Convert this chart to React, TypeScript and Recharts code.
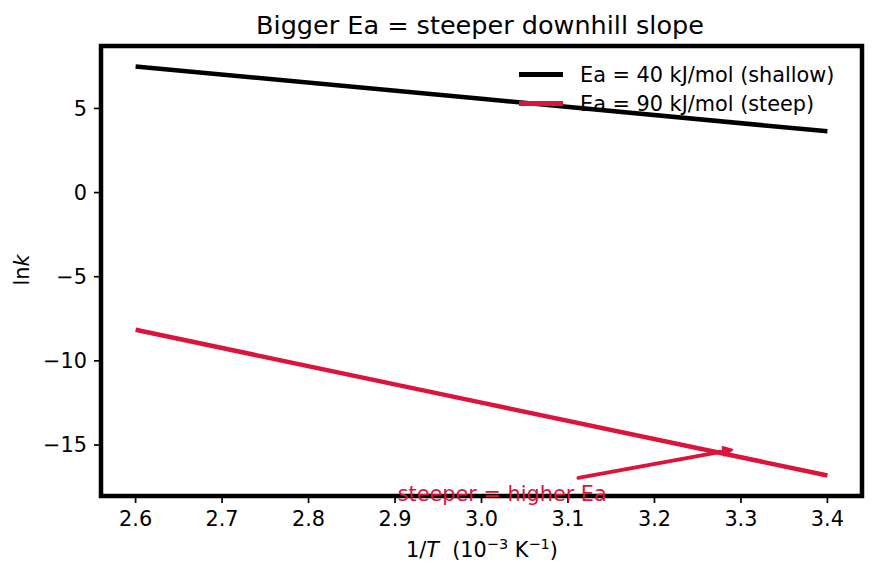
import { LineChart, Line, XAxis, YAxis, ReferenceArea, ReferenceLine, ReferenceDot } from 'recharts'

const INK = '#000000'
const CRIMSON = '#dc143c'
const FONT = '"DejaVu Sans", sans-serif'

// 1/T in units of 10^-3 K^-1, ln k for the two activation energies
const invT = [2.6, 3.0, 3.4]
const lnkShallow = [7.49, 5.57, 3.64]
const lnkSteep = [-8.15, -12.48, -16.81]

const xTicks = [2.6, 2.7, 2.8, 2.9, 3.0, 3.1, 3.2, 3.3, 3.4]
const yTicks = [-15, -10, -5, 0, 5]
const xDomain = [2.56, 3.44]
const yDomain = [-18.03, 8.71]

const seriesNames = ['Ea = 40 kJ/mol (shallow)', 'Ea = 90 kJ/mol (steep)']
const noteText = 'steeper = higher Ea'
const noteAt = { x: 3.024, y: -17.89 }
const arrowFrom = { x: 3.112, y: -16.95 }
const arrowTo = { x: 3.29, y: -15.28 }

const data = invT.map((x, i) => ({ x, shallow: lnkShallow[i], steep: lnkSteep[i] }))

const minus = (v: number) => (v < 0 ? '\u2212' + Math.abs(v) : String(v))

// line with a filled "-|>" head at the (x2, y2) end
function Arrow(props: any) {
  const { x1, y1, x2, y2 } = props
  if ([x1, y1, x2, y2].some((v) => typeof v !== 'number')) return null
  const dx = x2 - x1
  const dy = y2 - y1
  const len = Math.hypot(dx, dy) || 1
  const ux = dx / len
  const uy = dy / len
  const hl = 9
  const hw = 4.5
  const bx = x2 - ux * hl
  const by = y2 - uy * hl
  const pts = `${x2},${y2} ${bx - uy * hw},${by + ux * hw} ${bx + uy * hw},${by - ux * hw}`
  return (
    <g>
      <line x1={x1} y1={y1} x2={bx} y2={by} stroke={CRIMSON} strokeWidth={3.8} strokeLinecap="round" />
      <polygon points={pts} fill={CRIMSON} stroke={CRIMSON} strokeWidth={2} strokeLinejoin="round" />
    </g>
  )
}

function Note(props: any) {
  return (
    <text x={props.cx} y={props.cy} textAnchor="middle" dominantBaseline="central"
      fill={CRIMSON} fontSize={20.8} fontFamily={FONT}>
      {noteText}
    </text>
  )
}

function LegendBox() {
  const colors = [INK, CRIMSON]
  return (
    <div style={{ position: 'absolute', left: 519, top: 60, fontSize: 20.8, color: INK }}>
      {seriesNames.map((name, i) => (
        <div key={name} style={{ display: 'flex', alignItems: 'center', height: 29, whiteSpace: 'nowrap' }}>
          <span style={{ width: 44, height: 4.5, background: colors[i], display: 'inline-block', marginRight: 17 }} />
          {name}
        </div>
      ))}
    </div>
  )
}

const supStyle = { fontSize: 14.5, verticalAlign: 0, position: 'relative' as const, top: -8 }

export default function App() {
  const tickStyle = { fill: INK, fontSize: 20.8, fontFamily: FONT }
  return (
    <div style={{ position: 'absolute', left: 0, top: 0, width: 874, height: 582, background: '#fff', fontFamily: FONT }}>
      <div style={{ position: 'absolute', left: 0, width: 960, top: 8, textAlign: 'center', fontSize: 25.5, lineHeight: '34px' }}>
        Bigger Ea = steeper downhill slope
      </div>
      <LineChart width={874} height={582} data={data}
        margin={{ top: 46, right: 12, bottom: 46, left: 41 }}>
        <XAxis dataKey="x" type="number" domain={xDomain} ticks={xTicks} allowDataOverflow
          tickFormatter={(v: number) => v.toFixed(1)} tick={tickStyle} axisLine={false}
          tickLine={{ stroke: INK, strokeWidth: 1.7 }} tickSize={7} tickMargin={8} height={40} />
        <YAxis type="number" domain={yDomain} ticks={yTicks} allowDataOverflow
          tickFormatter={minus} tick={tickStyle} axisLine={false}
          tickLine={{ stroke: INK, strokeWidth: 1.7 }} tickSize={7} tickMargin={7} width={60} />
        <Line dataKey="shallow" name={seriesNames[0]} stroke={INK} strokeWidth={4.5} dot={false}
          isAnimationActive={false} />
        <Line dataKey="steep" name={seriesNames[1]} stroke={CRIMSON} strokeWidth={4.5} dot={false}
          isAnimationActive={false} />
        <ReferenceArea x1={xDomain[0]} x2={xDomain[1]} y1={yDomain[0]} y2={yDomain[1]}
          fill="none" fillOpacity={0} stroke={INK} strokeWidth={4.5} strokeOpacity={1} ifOverflow="visible" />
        <ReferenceLine segment={[arrowFrom, arrowTo]} shape={<Arrow />} ifOverflow="visible" />
        <ReferenceDot x={noteAt.x} y={noteAt.y} r={0} shape={<Note />} ifOverflow="visible" />
      </LineChart>
      <LegendBox />
      <div style={{ position: 'absolute', left: 102, width: 760, top: 538, textAlign: 'center', fontSize: 20.8 }}>
        1/<i>T</i>&nbsp;&nbsp;(10<sup style={supStyle}>−3</sup> K<sup style={supStyle}>−1</sup>)
      </div>
      <div style={{ position: 'absolute', left: 22, top: 270, transform: 'translate(-50%, -50%) rotate(-90deg)', fontSize: 20.8, whiteSpace: 'nowrap' }}>
        ln<i>k</i>
      </div>
    </div>
  )
}
